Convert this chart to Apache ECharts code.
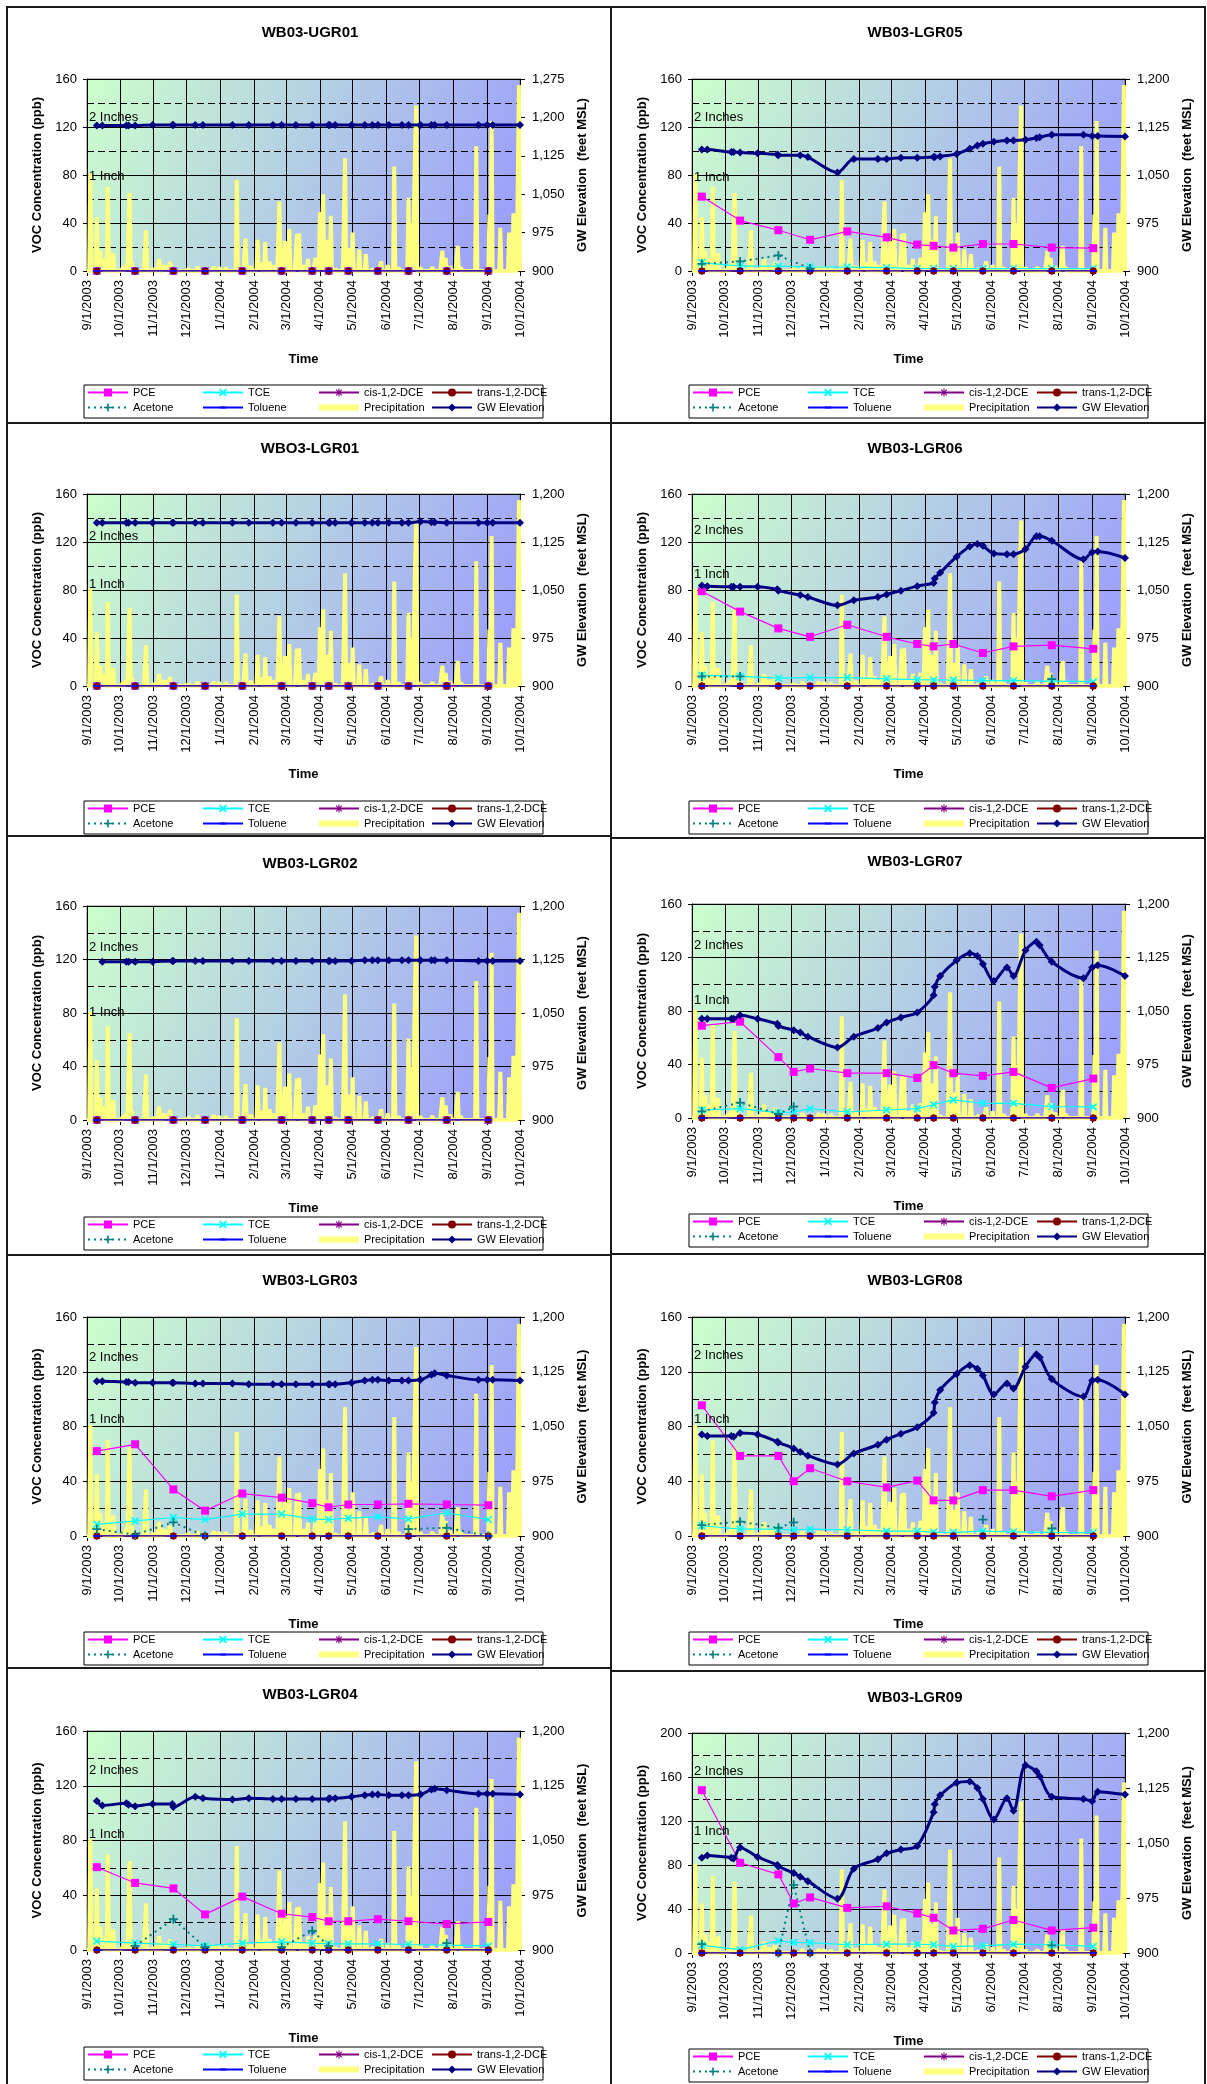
<!DOCTYPE html>
<html>
<head>
<meta charset="utf-8">
<script src="https://cdn.jsdelivr.net/npm/echarts@6/dist/echarts.min.js"></script>
<style>
body { margin: 0; background: #fff; }
#page { position: relative; width: 1207px; height: 2084px; overflow: hidden; }
.chart { position: absolute; }
.rule { position: absolute; background: #1a1a1a; z-index: 5; }
</style>
</head>
<body>
<div id="page"></div>
<script>
// month ticks on the date axis
var MONTHS = ['2003-09-01','2003-10-01','2003-11-01','2003-12-01','2004-01-01','2004-02-01','2004-03-01',
  '2004-04-01','2004-05-01','2004-06-01','2004-07-01','2004-08-01','2004-09-01','2004-10-01'];

// sampling dates for VOCs (index 3 = 12/3/2003, only some wells)
var SAMPLE_DATES = ['2003-09-10','2003-10-15','2003-11-19','2003-12-03','2003-12-18','2004-01-21','2004-02-26',
  '2004-03-25','2004-04-09','2004-04-27','2004-05-24','2004-06-21','2004-07-26','2004-09-02'];

// water level dates
var GW_DATES = ['2003-09-10','2003-09-15','2003-10-07','2003-10-09','2003-10-15','2003-10-31','2003-11-18','2003-11-19',
  '2003-12-03','2003-12-09','2003-12-16','2004-01-12','2004-01-27','2004-02-18','2004-02-26','2004-03-10','2004-03-25',
  '2004-04-09','2004-04-10','2004-04-15','2004-04-30','2004-05-12','2004-05-19','2004-05-24','2004-06-03','2004-06-15',
  '2004-06-21','2004-07-02','2004-07-12','2004-07-15','2004-07-26','2004-08-24','2004-09-01','2004-09-06','2004-10-01'];

// daily precipitation, only rain days listed (left axis units)
var PRECIP_DATES = ['2003-09-04','2003-09-10','2003-09-13','2003-09-16','2003-09-20','2003-09-25','2003-10-04','2003-10-07',
  '2003-10-10','2003-10-12','2003-10-25','2003-11-01','2003-11-06','2003-11-10','2003-11-13','2003-11-16','2003-12-03',
  '2003-12-11','2003-12-26','2003-12-31','2004-01-06','2004-01-16','2004-01-19','2004-01-24','2004-01-29','2004-02-04',
  '2004-02-07','2004-02-11','2004-02-15','2004-02-19','2004-02-24','2004-02-26','2004-02-29','2004-03-04','2004-03-11',
  '2004-03-13','2004-03-17','2004-03-21','2004-03-28','2004-04-01','2004-04-04','2004-04-07','2004-04-11','2004-04-15',
  '2004-04-24','2004-04-27','2004-05-01','2004-05-07','2004-05-13','2004-05-20','2004-05-27','2004-06-02','2004-06-08',
  '2004-06-12','2004-06-20','2004-06-21','2004-06-24','2004-06-27','2004-06-28','2004-07-02','2004-07-13','2004-07-22',
  '2004-07-25','2004-07-29','2004-08-05','2004-08-08','2004-08-22','2004-09-03','2004-09-05','2004-09-13','2004-09-21',
  '2004-09-25','2004-09-30'];
var PRECIP = [81,45,17,10,70,15,3,5,
  65,7,34,2,10,5,4,7.5,2,
  3.5,3.5,3,3,76,2,27,4,26,
  7,24,8,5,58,7,25,35,31,
  31.5,5,10,11,49,64,26,46,2,
  94,19,32,18,14,2,8,5,87,
  3,5,61,40,100,138,3,3,17,
  11,4,21,3,104,47,125,36,32,
  48,155];

// groundwater elevation per well (null = not measured)
var GW_UGR01 = [1184,1184,1184,1184,1184,1185,1185,1185,null,1185,1185,1185,1185,1185,1185,1185,1185,1185,1185,1185,1185,1185,1185,1185,1185,1185,1185,1185,1185,1185,1185,1185,1185,1185,1185];
var GW_LGR01 = [1155,1155,1155,1155,1155,1155,1155,1155,null,1155,1155,1155,1155,1155,1155,1155,1155,1155,1155,1155,1155,1155,1155,1155,1155,1155,1155,1157,1156,1156,1155,1155,1155,1155,1155];
var GW_LGR02 = [null,1122,1122,1122,1122,1122,1123,1123,null,1123,1123,1123,1123,1123,1123,1123,1123,1123,1123,1123,1123,1124,1124,1124,1124,1124,1124,1124,1124,1124,1124,1123,1123,1123,1123];
var GW_LGR03 = [1112,1112,1111,1111,1110,1110,1110,1110,null,1109,1109,1109,1108,1108,1108,1108,1108,1108,1108,1108,1110,1113,1114,1114,1113,1113,1113,1114,1121,1123,1120,1114,1114,1114,1113];
var GW_LGR04 = [1104,1098,1101,1099,1097,1100,1100,1096,null,1110,1108,1106,1108,1107,1107,1107,1107,1107,1108,1108,1110,1112,1113,1113,1112,1112,1112,1113,1120,1121,1119,1114,1114,1114,1113];
var GW_LGR05 = [1090,1090,1086,1086,1085,1084,1082,1081,null,1081,1078,1054,1075,1075,1075,1077,1077,1078,1078,1079,1083,1091,1096,1099,1102,1104,1104,1105,1108,1109,1113,1113,1111,1111,1110];
var GW_LGR06 = [1057,1056,1055,1055,1055,1055,1051,1049,null,1042,1039,1026,1034,1039,1043,1049,1056,1061,1068,1077,1102,1118,1122,1119,1107,1106,1106,1114,1134,1134,1127,1098,1109,1110,1100];
var GW_LGR07 = [1039,1039,1039,1039,1044,1039,1032,1029,1023,1020,1014,999,1014,1026,1034,1041,1048,1072,1084,1099,1121,1131,1127,1116,1092,1111,1099,1135,1147,1142,1119,1096,1111,1114,1099];
var GW_LGR08 = [1039,1037,1037,1036,1041,1039,1029,1028,1020,1015,1010,998,1013,1025,1032,1040,1049,1069,1083,1100,1122,1134,1129,1120,1094,1109,1102,1132,1149,1145,1115,1091,1113,1114,1094];
var GW_LGR09 = [1030,1033,1030,1029,1044,1031,1020,1018,1009,1004,998,974,1015,1028,1036,1041,1046,1092,1103,1115,1132,1134,1125,1110,1082,1111,1094,1156,1148,1141,1113,1110,1107,1120,1116];

// VOC results (ppb) at SAMPLE_DATES
var ZERO_VOC = [0,0,0,0,0,0,0,0,0,0,0,0,0,0];
var CIS_DCE = [0,0,0,0,0,0,0,0,0,0,0,0,0,0];
var TRANS_DCE = [0,0,0,0,0,0,0,0,0,0,0,0,0,0];
var TOLUENE = [0,0,0,0,0,0,0,0,0,0,0,0,0,0];
var NO_ACETONE = [null,null,null,null,null,null,null,null,null,null,null,null,null,null];

var PCE_LGR03 = [62,67,34,null,18.5,31,28,24,21,23,23,23.5,23,22.5];
var TCE_LGR03 = [8.5,11,13.5,null,12,16,16,12.5,12,13,14,12.5,17,12];
var ACE_LGR03 = [5,1,10,null,0,null,null,null,null,null,null,5,6,0];

var PCE_LGR04 = [60.5,49,45,null,26,39,26.5,24,21,21,22.5,21,19,20.5];
var TCE_LGR04 = [6.5,5,4,null,3,5,6,5,4.5,4.5,4.5,4,3.5,3];
var ACE_LGR04 = [null,3,22.5,null,2,null,2,14,3,null,null,null,5,null];

var PCE_LGR05 = [62,42,34,null,26,33,28,22,21,19.5,22.5,22.5,19.5,19];
var TCE_LGR05 = [7,4,4,null,3.5,3.3,2.8,2,2,2,2,2,2,2];
var ACE_LGR05 = [6,8,13,null,2,null,null,null,null,null,null,null,null,null];

var PCE_LGR06 = [79,62,48,null,41,51,41,35,33,35,27.5,33,34,31];
var TCE_LGR06 = [9,8,6.5,null,7,7,6,5.3,5,5,4.4,4.4,4,3.6];
var ACE_LGR06 = [8,8,null,null,null,null,null,null,null,null,null,null,5.8,null];

var PCE_LGR07 = [69,72,45.5,34.5,37,33.5,33.5,30,39.5,33.5,31.5,34.5,22.5,29.5];
var TCE_LGR07 = [6,7,4,4.5,7,4.5,6,7,10,13.5,11,11,8.5,8.3];
var ACE_LGR07 = [5,11.5,3,8.5,null,null,null,null,null,null,null,null,null,null];

var PCE_LGR08 = [95.5,58.5,58.5,40,49.5,40,35.5,40.5,26,26,33.5,33.5,29,33.5];
var TCE_LGR08 = [7.5,5,5,4.5,5,4.5,3.5,3.5,2.7,2.7,3.5,3,2.7,2.5];
var ACE_LGR08 = [8,10.5,6,10,null,null,null,null,null,null,12,null,5.6,null];

var PCE_LGR09 = [148,82,71.5,45,50.5,41,42.5,36,32,20.5,22,30,20.5,23];
var TCE_LGR09 = [7,3,11,9.5,9.5,7.5,8,8,7.5,6,6.5,8,7.5,6];
var ACE_LGR09 = [8,null,0,62,0,null,null,null,null,null,null,null,7,null];

// panel layout: col, border top, height, title y, plot top/bottom, legend box top, label offsets
var PANELS = [
  {title:'WB03-UGR01', col:0, top:6,    h:416, ty:27, plot:[73,265],   lg:379, yMax:160, rMax:1275, dec3:false, inch:[38,97],  gw:GW_UGR01, pce:ZERO_VOC,  tce:ZERO_VOC,  ace:NO_ACETONE},
  {title:'WBO3-LGR01', col:0, top:422,  h:413, ty:27, plot:[72,264],   lg:379, yMax:160, rMax:1200, dec3:false, inch:[42,90],  gw:GW_LGR01, pce:ZERO_VOC,  tce:ZERO_VOC,  ace:NO_ACETONE},
  {title:'WB03-LGR02', col:0, top:835,  h:419, ty:29, plot:[71,285],   lg:382, yMax:160, rMax:1200, dec3:false, inch:[41,106], gw:GW_LGR02, pce:ZERO_VOC,  tce:ZERO_VOC,  ace:NO_ACETONE},
  {title:'WB03-LGR03', col:0, top:1254, h:413, ty:27, plot:[63,282],   lg:378, yMax:160, rMax:1200, dec3:false, inch:[40,102], gw:GW_LGR03, pce:PCE_LGR03, tce:TCE_LGR03, ace:ACE_LGR03},
  {title:'WB03-LGR04', col:0, top:1667, h:417, ty:28, plot:[64,283],   lg:380, yMax:160, rMax:1200, dec3:false, inch:[39,103], gw:GW_LGR04, pce:PCE_LGR04, tce:TCE_LGR04, ace:ACE_LGR04},
  {title:'WB03-LGR05', col:1, top:6,    h:416, ty:27, plot:[73,265],   lg:379, yMax:160, rMax:1200, dec3:false, inch:[38,98],  gw:GW_LGR05, pce:PCE_LGR05, tce:TCE_LGR05, ace:ACE_LGR05},
  {title:'WB03-LGR06', col:1, top:422,  h:415, ty:27, plot:[72,264],   lg:379, yMax:160, rMax:1200, dec3:false, inch:[36,80],  gw:GW_LGR06, pce:PCE_LGR06, tce:TCE_LGR06, ace:ACE_LGR06},
  {title:'WB03-LGR07', col:1, top:837,  h:416, ty:25, plot:[67,281],   lg:377, yMax:160, rMax:1200, dec3:true,  inch:[41,96],  gw:GW_LGR07, pce:PCE_LGR07, tce:TCE_LGR07, ace:ACE_LGR07},
  {title:'WB03-LGR08', col:1, top:1253, h:417, ty:28, plot:[64,283],   lg:379, yMax:160, rMax:1200, dec3:true,  inch:[38,102], gw:GW_LGR08, pce:PCE_LGR08, tce:TCE_LGR08, ace:ACE_LGR08},
  {title:'WB03-LGR09', col:1, top:1670, h:414, ty:28, plot:[63,283],   lg:379, yMax:200, rMax:1200, dec3:true,  inch:[38,98],  gw:GW_LGR09, pce:PCE_LGR09, tce:TCE_LGR09, ace:ACE_LGR09}
];

var FONT = 'Arial, "Liberation Sans", sans-serif';
var X_PATH = 'path://M0,1.5L1.5,0L5,3.5L8.5,0L10,1.5L6.5,5L10,8.5L8.5,10L5,6.5L1.5,10L0,8.5L3.5,5Z';
var PLUS_PATH = 'path://M4,0H6V4H10V6H6V10H4V6H0V4H4Z';
var STAR_PATH = 'path://M4.3,0H5.7V3.3L8,1L9,2L6.7,4.3H10V5.7H6.7L9,8L8,9L5.7,6.7V10H4.3V6.7L2,9L1,8L3.3,5.7H0V4.3H3.3L1,2L2,1L4.3,3.3Z';
// short dash inside a 10x10 box (moveTo corners keep the box square)
var DASH_PATH = 'path://M0,0M10,10M1,3.8H9V6.2H1Z';
// nothing visible: keeps the legend icon a plain line
var BLANK_PATH = 'path://M0,0M10,10';

function pd(s) {
  var a = s.split('-');
  return new Date(+a[0], +a[1] - 1, +a[2]).getTime();
}

function fmtDate(v) {
  var d = new Date(v);
  return (d.getMonth() + 1) + '/' + d.getDate() + '/' + d.getFullYear();
}

function fmtComma(v) {
  var s = String(Math.round(v));
  return s.length > 3 ? s.slice(0, s.length - 3) + ',' + s.slice(-3) : s;
}

// daily precipitation line, zero on days without rain
function precipSeriesData() {
  var lookup = {};
  PRECIP_DATES.forEach(function (d, i) { lookup[pd(d)] = PRECIP[i]; });
  var out = [];
  var end = pd(MONTHS[MONTHS.length - 1]);
  for (var i = 0; ; i++) {
    var t = new Date(2003, 8, 1 + i).getTime();
    if (t > end) break;
    out.push([t, lookup[t] || 0]);
  }
  return out;
}
var PRECIP_DAILY = precipSeriesData();

function sampleData(p, vals) {
  var out = [];
  SAMPLE_DATES.forEach(function (d, i) {
    if (i === 3 && !p.dec3) return;
    out.push([pd(d), vals[i] == null ? '-' : vals[i]]);
  });
  return out;
}

function gwData(vals) {
  var out = [];
  GW_DATES.forEach(function (d, i) {
    if (vals[i] != null) out.push([pd(d), vals[i]]);
  });
  return out;
}

function vocSeries(name, data, color, symbol, size, extra) {
  var s = {
    name: name, type: 'line', yAxisIndex: 0, data: data, z: 3,
    symbol: symbol, symbolSize: size, showSymbol: true,
    lineStyle: {color: color, width: 1.2},
    itemStyle: {color: color},
    connectNulls: false
  };
  if (extra) for (var k in extra) s[k] = extra[k];
  return s;
}

function buildOption(p) {
  var gTop = p.plot[0], gH = p.plot[1] - p.plot[0];
  var cols = [
    ['PCE', 'Acetone'],
    ['TCE', 'Toluene'],
    ['cis-1,2-DCE', {name: 'Precipitation', lineStyle: {width: 6, color: '#ffff80'}}],
    ['trans-1,2-DCE', 'GW Elevation']
  ];
  var colX = [87, 202, 316, 431];
  var monthTicks = MONTHS.map(pd);
  return {
    animation: false,
    textStyle: {fontFamily: FONT, color: '#000'},
    grid: {
      left: 87, top: gTop, width: 433, height: gH,
      show: true, borderColor: '#808080', borderWidth: 1,
      outerBoundsMode: 'none',
      backgroundColor: new echarts.graphic.LinearGradient(0, 0, 1, 1, [
        {offset: 0, color: '#ccffcc'},
        {offset: 1, color: '#9999ff'}
      ])
    },
    xAxis: {
      type: 'value',
      min: monthTicks[0], max: monthTicks[monthTicks.length - 1],
      name: 'Time', nameLocation: 'middle', nameGap: 82,
      nameTextStyle: {fontWeight: 'bold', fontSize: 13, color: '#000', fontFamily: FONT},
      axisLine: {show: true, onZero: false, lineStyle: {color: '#000', width: 1}},
      axisTick: {show: true, length: 5, lineStyle: {color: '#000'}, customValues: monthTicks},
      axisLabel: {
        rotate: 90, fontSize: 13, color: '#000', margin: 9, fontFamily: FONT,
        customValues: monthTicks, formatter: fmtDate, hideOverlap: false
      },
      splitLine: {show: true, lineStyle: {color: '#000', width: 1}},
      minorSplitLine: {show: false}
    },
    yAxis: [{
      type: 'value', min: 0, max: p.yMax, interval: 40, position: 'left',
      name: 'VOC Concentration (ppb)', nameLocation: 'middle', nameRotate: 90, nameGap: 35,
      nameTextStyle: {fontWeight: 'bold', fontSize: 13, color: '#000', fontFamily: FONT},
      axisLine: {show: true, lineStyle: {color: '#000', width: 1}},
      axisTick: {show: true, length: 4, lineStyle: {color: '#000'}},
      axisLabel: {fontSize: 13, color: '#000', margin: 10, fontFamily: FONT},
      splitLine: {show: true, lineStyle: {color: '#000', width: 1}},
      minorTick: {show: false, splitNumber: 2},
      minorSplitLine: {show: true, lineStyle: {color: '#000', width: 1, type: [7, 4]}}
    }, {
      type: 'value', min: 900, max: p.rMax, interval: 75, position: 'right',
      name: 'GW Elevation  (feet MSL)', nameLocation: 'middle', nameRotate: 90, nameGap: 54,
      nameTextStyle: {fontWeight: 'bold', fontSize: 13, color: '#000', fontFamily: FONT},
      axisLine: {show: true, lineStyle: {color: '#000', width: 1}},
      axisTick: {show: true, length: 5, lineStyle: {color: '#000'}},
      axisLabel: {fontSize: 13, color: '#000', margin: 12, formatter: fmtComma, fontFamily: FONT},
      splitLine: {show: false}
    }],
    legend: cols.map(function (c, i) {
      return {
        data: c, orient: 'vertical', left: colX[i], top: p.lg + 2,
        itemWidth: 40, itemHeight: 10, itemGap: 4, padding: 0,
        selectedMode: false,
        textStyle: {fontSize: 11, color: '#000', fontFamily: FONT}
      };
    }),
    graphic: [
      {type: 'text', x: 310, y: p.ty, z: 10,
        style: {text: p.title, font: 'bold 15px ' + FONT, fill: '#000', textAlign: 'center', align: 'center', textVerticalAlign: 'middle', verticalAlign: 'middle'}},
      {type: 'text', x: 89, y: gTop + p.inch[0], z: 10,
        style: {text: '2 Inches', font: '13px ' + FONT, fill: '#000', textVerticalAlign: 'middle', verticalAlign: 'middle'}},
      {type: 'text', x: 89, y: gTop + p.inch[1], z: 10,
        style: {text: '1 Inch', font: '13px ' + FONT, fill: '#000', textVerticalAlign: 'middle', verticalAlign: 'middle'}},
      {type: 'rect', z: 1, shape: {x: 84, y: p.lg, width: 459, height: 33},
        style: {fill: '#fff', stroke: '#000', lineWidth: 1}}
    ],
    series: [
      {
        name: 'Precipitation', type: 'line', yAxisIndex: 0, data: PRECIP_DAILY, z: 1,
        showSymbol: false, symbol: BLANK_PATH,
        lineStyle: {color: '#ffff80', width: 4}, itemStyle: {color: '#ffff80'}
      },
      vocSeries('PCE', sampleData(p, p.pce), '#ff00ff', 'rect', 8),
      vocSeries('TCE', sampleData(p, p.tce), '#00ffff', X_PATH, 8),
      vocSeries('cis-1,2-DCE', sampleData(p, CIS_DCE), '#800080', STAR_PATH, 8),
      vocSeries('trans-1,2-DCE', sampleData(p, TRANS_DCE), '#800000', 'circle', 7),
      vocSeries('Acetone', sampleData(p, p.ace), '#008080', PLUS_PATH, 9,
        {lineStyle: {color: '#008080', width: 2, type: [2, 4]}}),
      vocSeries('Toluene', sampleData(p, TOLUENE), '#0000ff', DASH_PATH, 8),
      {
        name: 'GW Elevation', type: 'line', yAxisIndex: 1, data: gwData(p.gw), z: 5,
        smooth: 0.3, symbol: 'diamond', symbolSize: 8, showSymbol: true,
        lineStyle: {color: '#000080', width: 3}, itemStyle: {color: '#000080'}
      }
    ]
  };
}

var page = document.getElementById('page');

PANELS.forEach(function (p) {
  var div = document.createElement('div');
  div.className = 'chart';
  div.style.left = (p.col * 605) + 'px';
  div.style.top = p.top + 'px';
  div.style.width = (p.col ? 602 : 605) + 'px';
  div.style.height = p.h + 'px';
  page.appendChild(div);
  var chart = echarts.init(div, null, {renderer: 'canvas'});
  chart.setOption(buildOption(p));
});

// panel frame lines
function rule(x, y, w, h) {
  var r = document.createElement('div');
  r.className = 'rule';
  r.style.left = x + 'px'; r.style.top = y + 'px';
  r.style.width = w + 'px'; r.style.height = h + 'px';
  page.appendChild(r);
}
rule(6, 6, 2, 2078);
rule(610, 6, 2, 2078);
rule(1204, 6, 2, 2078);
[6, 422, 835, 1254, 1667].forEach(function (y) { rule(6, y, 606, 2); });
[6, 422, 837, 1253, 1670].forEach(function (y) { rule(610, y, 596, 2); });
</script>
</body>
</html>
